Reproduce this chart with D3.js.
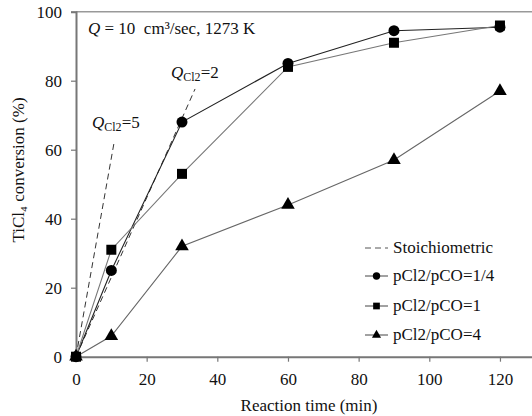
<!DOCTYPE html>
<html>
<head>
<meta charset="utf-8">
<script src="https://cdn.jsdelivr.net/npm/d3@7"></script>
<style>
  body { margin: 0; background: #fff; }
</style>
</head>
<body>
<svg id="chart" width="532" height="416"></svg>
<script>
// reaction time (min)
const times = [0, 10, 30, 60, 90, 120];
// TiCl4 conversion (%)
const ratioQuarter = [0, 25, 68, 85, 94.5, 95.5];
const ratioOne = [0, 31, 53, 84, 91, 96];
const ratioFour = [0, 6, 32, 44, 57, 77];
// stoichiometric lines (end points)
const stoichQ2x = [0, 33.7], stoichQ2y = [0, 77.6];
const stoichQ5x = [0, 10.8], stoichQ5y = [0, 62.2];

const xTicks = [0, 20, 40, 60, 80, 100, 120];
const yTicks = [0, 20, 40, 60, 80, 100];

const FONT = "'Liberation Serif', 'Times New Roman', serif";
const FS = 17;

const svg = d3.select("#chart").style("font-family", FONT);
const plotLeft = 76, plotTop = 11.7, plotBottom = 356.7;

const x = d3.scaleLinear().domain([0, 130]).range([plotLeft, plotLeft + 130 * 3.533]);
const y = d3.scaleLinear().domain([0, 100]).range([plotBottom, plotTop]);

// frame
svg.append("line")
  .attr("x1", x(0)).attr("x2", x(130))
  .attr("y1", y(100)).attr("y2", y(100))
  .attr("stroke", "#999").attr("stroke-width", 1.5);

const xAxis = svg.append("g")
  .attr("transform", `translate(0,${y(0)})`)
  .call(d3.axisBottom(x).tickValues(xTicks).tickSize(5).tickPadding(11));
const yAxis = svg.append("g")
  .attr("transform", `translate(${x(0)},0)`)
  .call(d3.axisLeft(y).tickValues(yTicks).tickSize(5).tickPadding(9));

[xAxis, yAxis].forEach(g => {
  g.attr("font-family", null);
  g.select(".domain").attr("stroke", "#777").attr("stroke-width", 2);
  g.selectAll(".tick line").attr("stroke", "#777").attr("stroke-width", 1.2);
  g.selectAll(".tick text")
    .style("font-family", FONT)
    .attr("font-size", FS)
    .attr("fill", "#111");
});

const line = d3.line().x(d => x(d[0])).y(d => y(d[1]));

// stoichiometric dashed lines
[[stoichQ2x, stoichQ2y], [stoichQ5x, stoichQ5y]].forEach(([xs, ys]) => {
  svg.append("path")
    .datum(xs.map((v, i) => [v, ys[i]]))
    .attr("d", line)
    .attr("fill", "none")
    .attr("stroke", "#333")
    .attr("stroke-width", 1)
    .attr("stroke-dasharray", "6,4");
});

const series = [
  { name: "pCl2/pCO=1/4", values: ratioQuarter, shape: d3.symbolCircle, size: 95, color: "#222" },
  { name: "pCl2/pCO=1", values: ratioOne, shape: d3.symbolSquare, size: 100, color: "#777" },
  { name: "pCl2/pCO=4", values: ratioFour, shape: d3.symbolTriangle, size: 80, color: "#666" }
];

series.forEach(s => {
  const pts = times.map((t, i) => [t, s.values[i]]);
  svg.append("path")
    .datum(pts)
    .attr("d", line)
    .attr("fill", "none")
    .attr("stroke", s.color)
    .attr("stroke-width", 1.1);
});

series.forEach(s => {
  const pts = times.map((t, i) => [t, s.values[i]]);
  svg.append("g").selectAll("path")
    .data(pts)
    .join("path")
    .attr("transform", d => `translate(${x(d[0])},${y(d[1])})`)
    .attr("d", d3.symbol(s.shape, s.size))
    .attr("fill", "#000");
});

// annotations
const ann = svg.append("text").attr("x", 88).attr("y", 34).attr("font-size", FS).attr("fill", "#111")
  .attr("xml:space", "preserve");
ann.append("tspan").attr("font-style", "italic").text("Q");
ann.append("tspan").text(" = 10  cm³/sec, 1273 K");

function qLabel(px, py, val) {
  const t = svg.append("text").attr("x", px).attr("y", py).attr("font-size", FS).attr("fill", "#111");
  t.append("tspan").attr("font-style", "italic").text("Q");
  t.append("tspan").attr("font-size", 12).attr("dy", 3).text("Cl2");
  t.append("tspan").attr("dy", -3).text("=" + val);
}
qLabel(171, 78, 2);
qLabel(92, 128, 5);

// legend
const legendY = [248, 276, 306, 335];
const lg = svg.append("g");
lg.append("line")
  .attr("x1", 365).attr("x2", 388).attr("y1", legendY[0]).attr("y2", legendY[0])
  .attr("stroke", "#555").attr("stroke-dasharray", "6,4");
lg.append("text").attr("x", 393).attr("y", legendY[0] + 5).attr("font-size", FS).attr("fill", "#111").text("Stoichiometric");
series.forEach((s, i) => {
  const ly = legendY[i + 1];
  lg.append("line")
    .attr("x1", 365).attr("x2", 388).attr("y1", ly).attr("y2", ly)
    .attr("stroke", "#444").attr("stroke-width", 1);
  lg.append("path")
    .attr("transform", `translate(376.5,${ly})`)
    .attr("d", d3.symbol(s.shape, s.size * 0.45))
    .attr("fill", "#000");
  lg.append("text").attr("x", 393).attr("y", ly + 5).attr("font-size", FS).attr("fill", "#111").text(s.name);
});

// axis titles
svg.append("text")
  .attr("x", 309).attr("y", 411)
  .attr("text-anchor", "middle").attr("font-size", FS).attr("fill", "#111")
  .text("Reaction time (min)");

svg.append("text")
  .attr("transform", "translate(24,170) rotate(-90)")
  .attr("text-anchor", "middle").attr("font-size", FS).attr("fill", "#111")
  .text("TiCl₄ conversion (%)");
</script>
</body>
</html>
